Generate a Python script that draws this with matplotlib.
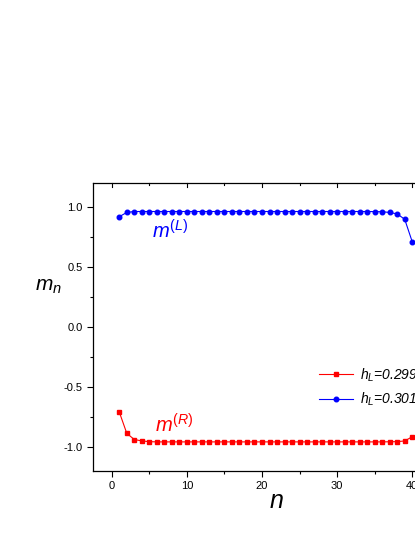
import matplotlib
matplotlib.use("Agg")
import matplotlib.pyplot as plt
from matplotlib.ticker import MultipleLocator

plt.rcParams['font.family'] = ['Liberation Sans', 'DejaVu Sans']
plt.rcParams['mathtext.fontset'] = 'custom'
plt.rcParams['mathtext.rm'] = 'Liberation Sans'
plt.rcParams['mathtext.it'] = 'Liberation Sans:italic'
plt.rcParams['mathtext.bf'] = 'Liberation Sans:bold'

n = [1, 2, 3, 4, 5, 6, 7, 8, 9, 10, 11, 12, 13, 14, 15, 16, 17, 18, 19, 20,
     21, 22, 23, 24, 25, 26, 27, 28, 29, 30, 31, 32, 33, 34, 35, 36, 37, 38, 39, 40]
m_L = [0.917, 0.952, 0.960, 0.960, 0.960, 0.960, 0.960, 0.960, 0.960, 0.960,
       0.960, 0.960, 0.960, 0.960, 0.960, 0.960, 0.960, 0.960, 0.960, 0.960,
       0.960, 0.960, 0.960, 0.960, 0.960, 0.960, 0.960, 0.960, 0.960, 0.960,
       0.960, 0.960, 0.960, 0.960, 0.959, 0.958, 0.952, 0.940, 0.895, 0.708]
m_R = [-0.711, -0.889, -0.940, -0.952, -0.958, -0.960, -0.960, -0.960, -0.960, -0.960,
       -0.960, -0.960, -0.960, -0.960, -0.960, -0.960, -0.960, -0.960, -0.960, -0.960,
       -0.960, -0.960, -0.960, -0.960, -0.960, -0.960, -0.960, -0.960, -0.960, -0.960,
       -0.960, -0.960, -0.960, -0.960, -0.960, -0.960, -0.959, -0.958, -0.952, -0.917]
label_R = r'$h_L$=0.299'
label_L = r'$h_L$=0.301'
xticks = [0, 10, 20, 30, 40]
yticks = [-1.0, -0.5, 0.0, 0.5, 1.0]

fig = plt.figure(figsize=(4.15, 5.37), dpi=100)
ax = fig.add_axes([93/415, 1 - 470.7/537, (431-93)/415, (470.7-182.7)/537])

ax.plot(n, m_R, color='#ff0000', lw=0.8, marker='s', ms=3.0, mec='#ff0000', mfc='#ff0000',
        label=label_R)
ax.plot(n, m_L, color='#0000ff', lw=0.8, marker='o', ms=3.3, mec='#0000ff', mfc='#0000ff',
        label=label_L)

ax.set_xlim(-2.5, 42.5)
ax.set_ylim(-1.2, 1.2)
ax.set_xticks(xticks)
ax.set_yticks(yticks)
ax.set_yticklabels(['%.1f' % v for v in yticks])
ax.xaxis.set_minor_locator(MultipleLocator(5))
ax.yaxis.set_minor_locator(MultipleLocator(0.25))
ax.tick_params(which='both', direction='out', labelsize=8, width=0.8, top=False, right=False)
ax.tick_params(which='major', length=4.5, pad=3)
ax.tick_params(which='minor', length=2.5)
# inward ticks on top
for x in [0, 5, 10, 15, 20, 25, 30, 35, 40]:
    L = 0.035 if x % 10 == 0 else 0.02
    ax.plot([x, x], [1.2, 1.2 - L], color='black', lw=0.8, clip_on=False)
for s in ax.spines.values():
    s.set_linewidth(0.9)

fig.text(276/415, 1 - 508/537, r'$n$', fontsize=18, ha='center', va='baseline')
fig.text(35/415, 1 - 291/537, r'$m_n$', fontsize=15, ha='left', va='baseline')

ax.text(5.3, 0.733, r'$m^{(L)}$', color='#0000ff', fontsize=14.5, ha='left', va='baseline')
ax.text(5.7, -0.883, r'$m^{(R)}$', color='#ff0000', fontsize=14.5, ha='left', va='baseline')

leg = ax.legend(loc='center left', bbox_to_anchor=(0.669, 0.29), frameon=False,
                fontsize=10, handlelength=2.45, handletextpad=0.5, labelspacing=0.5,
                borderpad=0, borderaxespad=0)
for t in leg.get_texts():
    t.set_fontstyle('italic')

fig.savefig('out.png', dpi=100)
